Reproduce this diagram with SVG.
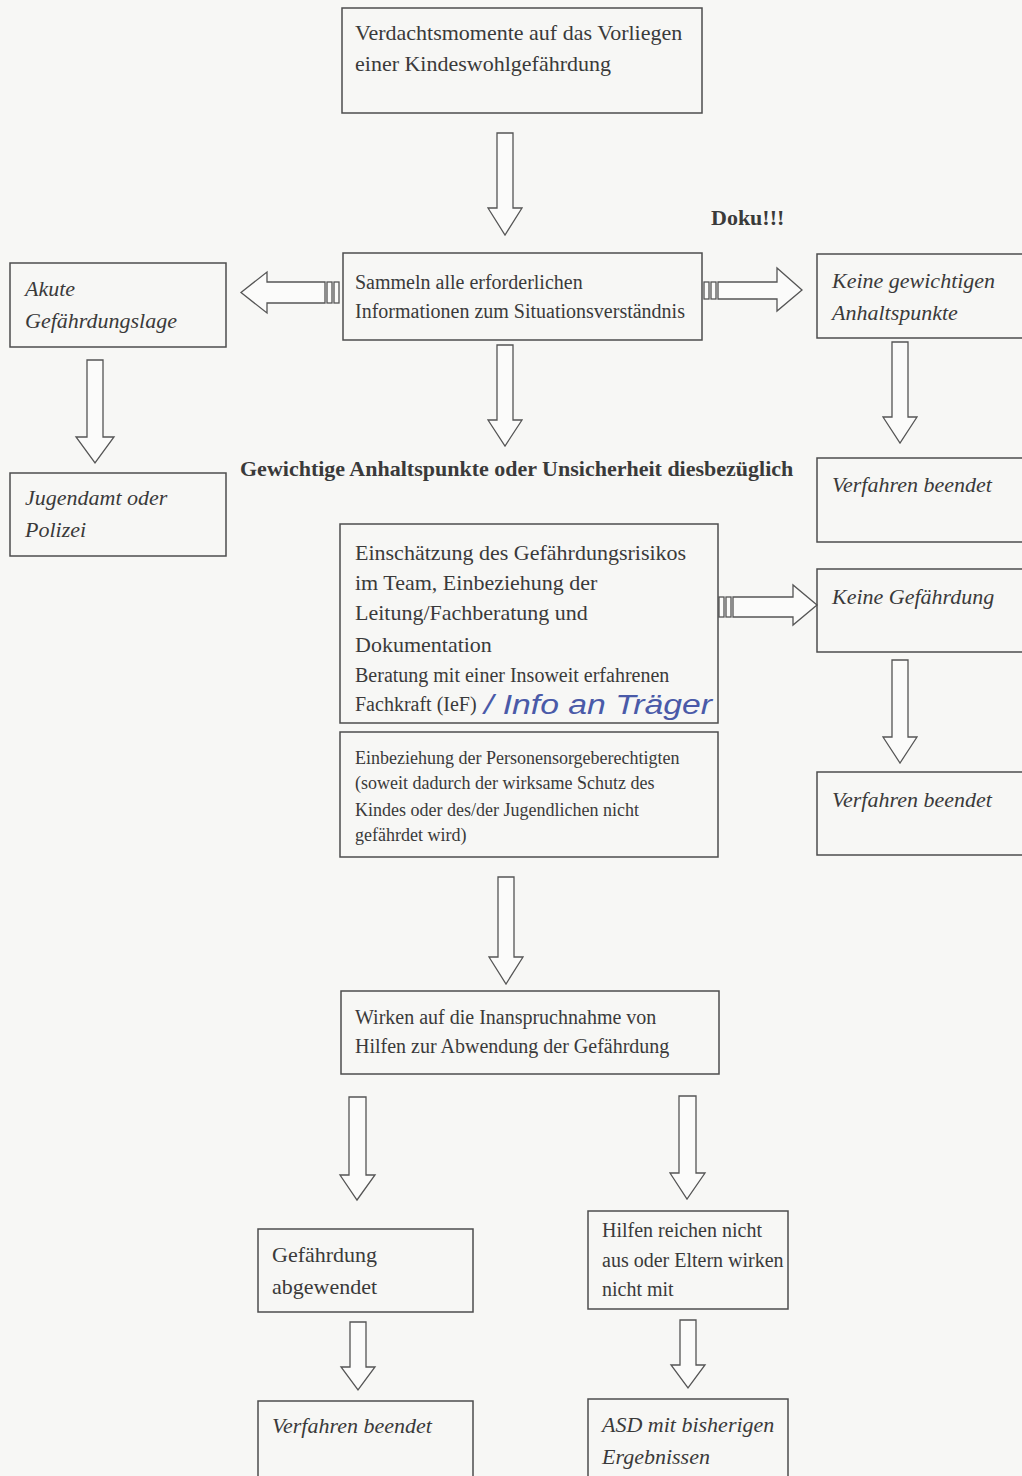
<svg xmlns="http://www.w3.org/2000/svg" width="1022" height="1476" viewBox="0 0 1022 1476">
<style>
.box{fill:none;stroke:#4d4d4d;stroke-width:1.5}
.t{font-family:"Liberation Serif","Times New Roman",serif;fill:#3a3a3a}
.i{font-style:italic}
.b{font-weight:bold}
.s22{font-size:22px}
.s20{font-size:20px}
.s18{font-size:18px}
.arr{fill:#fbfbfa;stroke:#555;stroke-width:1.3}
.hw{font-family:"Liberation Sans",Arial,sans-serif;font-style:italic;font-size:27px;fill:#4a5aa8}
</style>
<rect x="0" y="0" width="1022" height="1476" fill="#f7f7f5"/>

<g id="connectors">
<polygon class="arr" points="497,133 513,133 513,208 522,208 505,235 488,208 497,208"/>
<polygon class="arr" points="497,345 513,345 513,420 522,420 505,446 488,420 497,420"/>
<polygon class="arr" points="87,360 103,360 103,437 114,437 95,463 76,437 87,437"/>
<polygon class="arr" points="892,342 908,342 908,417 917,417 900,443 883,417 892,417"/>
<polygon class="arr" points="892,660 908,660 908,737 917,737 900,763 883,737 892,737"/>
<polygon class="arr" points="498,877 514,877 514,957 523,957 506,984 489,957 498,957"/>
<polygon class="arr" points="349,1097 366,1097 366,1175 375,1175 357,1200 340,1175 349,1175"/>
<polygon class="arr" points="679,1096 696,1096 696,1173 705,1173 687,1199 670,1173 679,1173"/>
<polygon class="arr" points="350,1322 366,1322 366,1367 375,1367 358,1390 341,1367 350,1367"/>
<polygon class="arr" points="680,1320 696,1320 696,1365 705,1365 688,1388 671,1365 680,1365"/>
<polygon class="arr" points="325,282 267,282 267,272 241,292.5 267,313 267,303 325,303"/>
<rect class="arr" x="327" y="282" width="5" height="21"/>
<rect class="arr" x="334" y="282" width="5" height="21"/>
<polygon class="arr" points="718,282 777,282 777,268 802,290 777,311 777,299 718,299"/>
<rect class="arr" x="704" y="282" width="5" height="17"/>
<rect class="arr" x="711" y="282" width="5" height="17"/>
<polygon class="arr" points="733,597 793,597 793,585 817,605 793,625 793,617 733,617"/>
<rect class="arr" x="719" y="597" width="5" height="20"/>
<rect class="arr" x="726" y="597" width="5" height="20"/>
</g>

<g id="n-verdacht">
<rect class="box" x="342" y="8" width="360" height="105"/>
<text class="t s22" x="355" y="40">Verdachtsmomente auf das Vorliegen</text>
<text class="t s22" x="355" y="71">einer Kindeswohlgefährdung</text>
</g>

<g id="n-doku">
<text class="t b s22" x="711" y="225">Doku!!!</text>
</g>

<g id="n-sammeln">
<rect class="box" x="343" y="253" width="359" height="87"/>
<text class="t s20" x="355" y="289">Sammeln alle erforderlichen</text>
<text class="t s20" x="355" y="318">Informationen zum Situationsverständnis</text>
</g>

<g id="n-akute">
<rect class="box" x="10" y="263" width="216" height="84"/>
<text class="t i s22" x="25" y="296">Akute</text>
<text class="t i s22" x="25" y="328">Gefährdungslage</text>
</g>

<g id="n-jugendamt">
<rect class="box" x="10" y="473" width="216" height="83"/>
<text class="t i s22" x="25" y="505">Jugendamt oder</text>
<text class="t i s22" x="25" y="537">Polizei</text>
</g>

<g id="n-keine-anhalt">
<rect class="box" x="817" y="254" width="215" height="84"/>
<text class="t i s22" x="832" y="288">Keine gewichtigen</text>
<text class="t i s22" x="832" y="320">Anhaltspunkte</text>
</g>

<g id="n-verfahren1">
<rect class="box" x="817" y="458" width="215" height="84"/>
<text class="t i s22" x="832" y="492">Verfahren beendet</text>
</g>

<g id="n-gewichtige">
<text class="t b s22" x="240" y="476">Gewichtige Anhaltspunkte oder Unsicherheit diesbezüglich</text>
</g>

<g id="n-einschaetzung">
<rect class="box" x="340" y="524" width="378" height="199"/>
<text class="t s22" x="355" y="560">Einschätzung des Gefährdungsrisikos</text>
<text class="t s22" x="355" y="590">im Team, Einbeziehung der</text>
<text class="t s22" x="355" y="620">Leitung/Fachberatung und</text>
<text class="t s22" x="355" y="652">Dokumentation</text>
<text class="t s20" x="355" y="682">Beratung mit einer Insoweit erfahrenen</text>
<text class="t s20" x="355" y="711">Fachkraft (IeF)</text>
<text class="hw" x="484" y="714" textLength="228" lengthAdjust="spacingAndGlyphs">/ Info an Träger</text>
</g>

<g id="n-einbeziehung">
<rect class="box" x="340" y="732" width="378" height="125"/>
<text class="t s18" x="355" y="764">Einbeziehung der Personensorgeberechtigten</text>
<text class="t s18" x="355" y="789">(soweit dadurch der wirksame Schutz des</text>
<text class="t s18" x="355" y="816">Kindes oder des/der Jugendlichen nicht</text>
<text class="t s18" x="355" y="841">gefährdet wird)</text>
</g>

<g id="n-keine-gefaehrdung">
<rect class="box" x="817" y="569" width="215" height="83"/>
<text class="t i s22" x="832" y="604">Keine Gefährdung</text>
</g>

<g id="n-verfahren2">
<rect class="box" x="817" y="772" width="215" height="83"/>
<text class="t i s22" x="832" y="807">Verfahren beendet</text>
</g>

<g id="n-wirken">
<rect class="box" x="341" y="991" width="378" height="83"/>
<text class="t s20" x="355" y="1024">Wirken auf die Inanspruchnahme von</text>
<text class="t s20" x="355" y="1053">Hilfen zur Abwendung der Gefährdung</text>
</g>

<g id="n-abgewendet">
<rect class="box" x="258" y="1229" width="215" height="83"/>
<text class="t s22" x="272" y="1262">Gefährdung</text>
<text class="t s22" x="272" y="1294">abgewendet</text>
</g>

<g id="n-hilfen">
<rect class="box" x="588" y="1211" width="200" height="98"/>
<text class="t s20" x="602" y="1237">Hilfen reichen nicht</text>
<text class="t s20" x="602" y="1267">aus oder Eltern wirken</text>
<text class="t s20" x="602" y="1296">nicht mit</text>
</g>

<g id="n-verfahren3">
<rect class="box" x="258" y="1401" width="215" height="90"/>
<text class="t i s22" x="272" y="1433">Verfahren beendet</text>
</g>

<g id="n-asd">
<rect class="box" x="588" y="1399" width="200" height="92"/>
<text class="t i s22" x="602" y="1432">ASD mit bisherigen</text>
<text class="t i s22" x="602" y="1464">Ergebnissen</text>
</g>
</svg>
